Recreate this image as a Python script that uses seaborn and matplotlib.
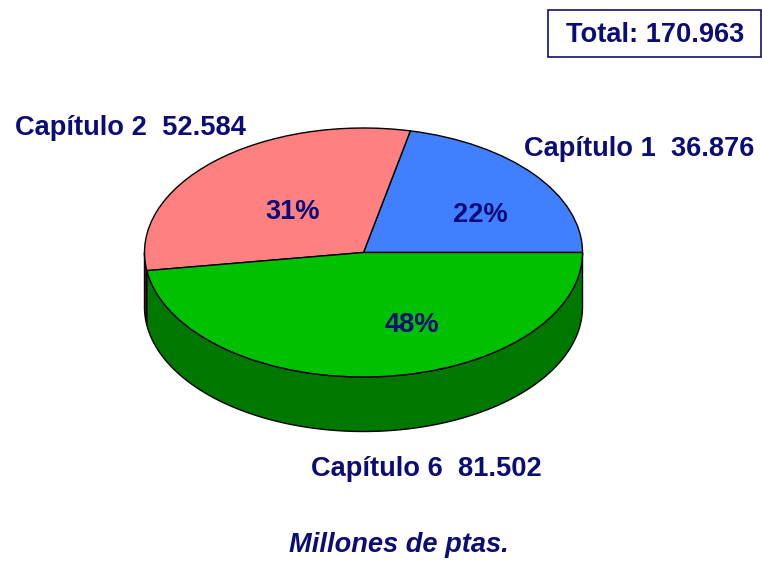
import numpy as np
import matplotlib
matplotlib.use('Agg')
import matplotlib.pyplot as plt
import seaborn as sns

# Chart data
capitulos = ['Capítulo 1', 'Capítulo 2', 'Capítulo 6']
valores = [36876, 52584, 81502]
valores_txt = ['36.876', '52.584', '81.502']
total_txt = '170.963'
unidades = 'Millones de ptas.'

colores = ['#4080FF', '#FF8080', '#00C000']
colores_lado = ['#2050A0', '#800000', '#007800']
azul_texto = '#0C0C78'

sns.set_theme(style='white')
plt.rcParams['font.family'] = ['Liberation Sans', 'DejaVu Sans']

W, H = 762, 563
cx, cy = 363.5, 252.5   # centre of the top ellipse, pixels
rx, ry = 219, 124.5
prof = 54.5 / ry        # depth of the rim, in units of ry
fs = 19.6


def px(x, y):
    return (x - cx) / rx, (cy - y) / ry


fig = plt.figure(figsize=(W / 100, H / 100), dpi=100, facecolor='white')
ax = fig.add_axes([0, 0, 1, 1])

# top of the pie
wedges, _, pcts = ax.pie(valores, colors=colores, startangle=0, counterclock=True,
                         autopct='%.0f%%', radius=1,
                         wedgeprops=dict(edgecolor='black', linewidth=1, zorder=3),
                         textprops=dict(color=azul_texto, fontsize=fs, fontweight='bold', zorder=5))
ax.set_aspect('auto')
ax.set_xlim(-cx / rx, (W - cx) / rx)
ax.set_ylim(-(H - cy) / ry, cy / ry)
ax.set_axis_off()

for t, pos in zip(pcts, [(480, 215), (293, 212), (412, 325)]):
    t.set_position(px(*pos))

# rim of the pie, only for the part of each slice that faces the viewer
for w, c in zip(wedges, colores_lado):
    a0, a1 = max(w.theta1, 180), min(w.theta2, 360)
    if a1 > a0:
        ang = np.radians(np.linspace(a0, a1, 200))
        xs = np.cos(ang)
        ys = np.sin(ang)
        ax.fill(np.r_[xs, xs[::-1]], np.r_[ys, ys[::-1] - prof],
                facecolor=c, edgecolor='black', linewidth=1, zorder=2)

# labels
for cap, val, (x, y) in zip(capitulos, valores_txt, [(524, 149), (15, 128), (311, 469)]):
    fig.text(x / W, 1 - y / H, f'{cap}  {val}', color=azul_texto, fontsize=fs,
             fontweight='bold', ha='left', va='center')

fig.text(655 / W, 1 - 35 / H, f'Total: {total_txt}', color=azul_texto, fontsize=fs,
         fontweight='bold', ha='center', va='center')
fig.patches.append(plt.Rectangle((547.5 / W, 1 - 57 / H), 213 / W, 46.5 / H,
                                 transform=fig.transFigure, figure=fig, fill=False,
                                 edgecolor='#101070', linewidth=1.2))
fig.text(399 / W, 1 - 545 / H, unidades, color=azul_texto, fontsize=fs,
         fontweight='bold', fontstyle='italic', ha='center', va='center')

fig.savefig('out.png', dpi=100, facecolor='white')
